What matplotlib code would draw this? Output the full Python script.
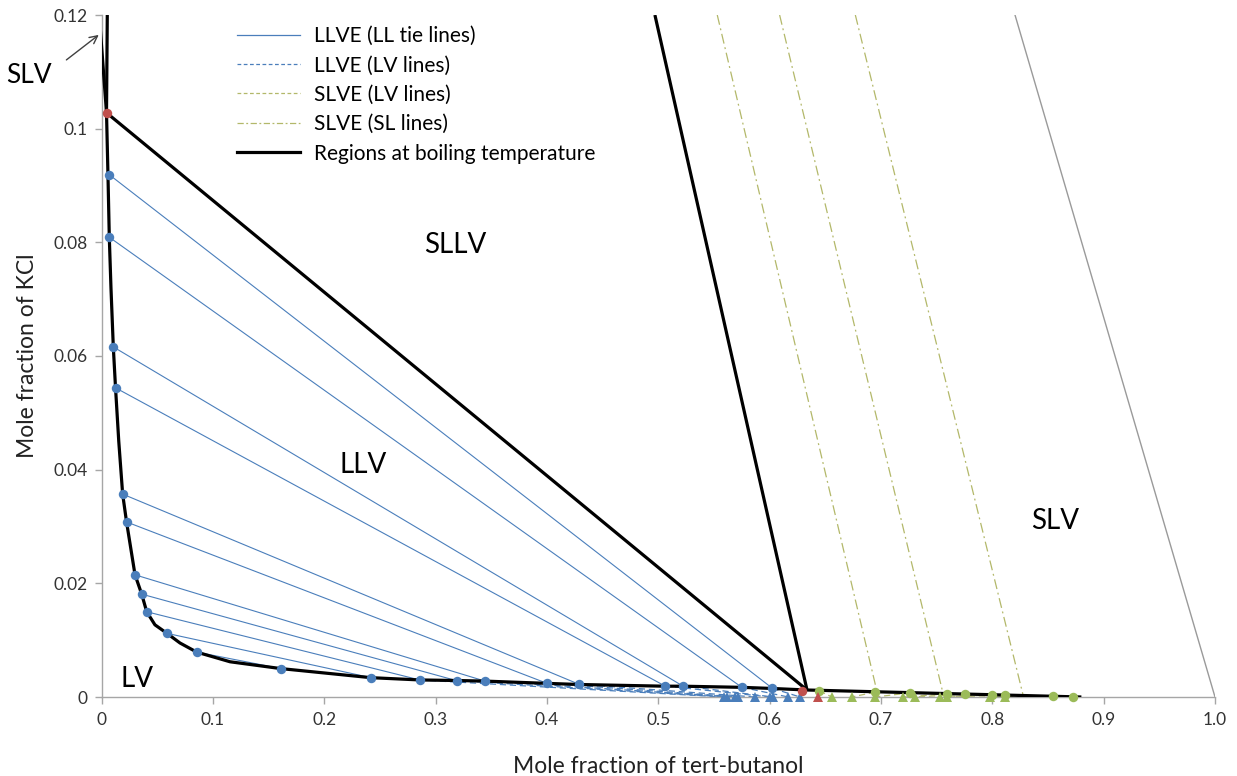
import matplotlib
matplotlib.use('Agg')
import matplotlib.pyplot as plt
from matplotlib.lines import Line2D

plt.rcParams['font.family'] = ['Lato', 'DejaVu Sans']

########################################################################################################################
# data (x = mole fraction tert-butanol, y = mole fraction KCl)

# LLVE tie lines: water-rich end (left) and alcohol-rich end (bottom)
l1_x = [0.0070, 0.0070, 0.0106, 0.0126, 0.0190, 0.0225, 0.0301, 0.0361, 0.0406, 0.0588, 0.0855]
l1_y = [0.0919, 0.0809, 0.0616, 0.0544, 0.0357, 0.0308, 0.0215, 0.0181, 0.0150, 0.0112, 0.0079]
l2_x = [0.6025, 0.5750, 0.5220, 0.5060, 0.4288, 0.4000, 0.3440, 0.3190, 0.2860, 0.2420, 0.1610]
l2_y = [0.00153, 0.00171, 0.00194, 0.00194, 0.00224, 0.00241, 0.00282, 0.00287, 0.00299, 0.0034, 0.0050]

# LLVE vapour points (no salt in vapour)
v_x = [0.6273, 0.6168, 0.6033, 0.6003, 0.5870, 0.5720, 0.5690, 0.5620, 0.5590]

# SLVE liquid / vapour points
sl_x = [0.6447, 0.6946, 0.7262, 0.7590, 0.7755, 0.7995, 0.8114, 0.8548, 0.8727]
sl_y = [0.00110, 0.00085, 0.00073, 0.00055, 0.00048, 0.00036, 0.00030, 0.00012, 0.00004]
sv_x = [0.6558, 0.6737, 0.6946, 0.7200, 0.7305, 0.7530, 0.7590, 0.7979, 0.8114]

# SLVE (SL lines): top and bottom ends
sll_top_x = [0.553, 0.609, 0.677]
sll_bot_x = [0.6965, 0.7558, 0.8277]
sll_bot_y = [0.0009, 0.0006, 0.0003]

# three-phase points (red)
tp_x = [0.0045, 0.6290]
tp_y = [0.1028, 0.00111]
tpv_x = [0.6435]

# region boundaries at boiling temperature
bnd_x = [0.0052, 0.0045, 0.0058, 0.0070, 0.0085, 0.0106, 0.0126, 0.0155, 0.0190, 0.0225, 0.0301, 0.0361,
         0.0406, 0.0480, 0.0588, 0.0705, 0.0855, 0.1154, 0.1610, 0.2420, 0.2860, 0.3190, 0.3440, 0.4000,
         0.4288, 0.5060, 0.5220, 0.5750, 0.6025, 0.6336, 0.8800]
bnd_y = [0.1200, 0.1028, 0.0919, 0.0809, 0.0720, 0.0616, 0.0544, 0.0450, 0.0357, 0.0308, 0.0215, 0.0181,
         0.0150, 0.0127, 0.0112, 0.0095, 0.0079, 0.0062, 0.0050, 0.0034, 0.0030, 0.0029, 0.0028, 0.0024,
         0.0022, 0.0019, 0.0019, 0.0017, 0.0015, 0.00123, 0.0]
slv_left_x = [0.0045, -0.0020]
slv_left_y = [0.1028, 0.1200]
sllv_x = [0.0045, 0.6336]
sllv_y = [0.1028, 0.00123]
steep_x = [0.6336, 0.4970]
steep_y = [0.00123, 0.1200]
grey_x = [0.8204, 1.0]
grey_y = [0.12, 0.0]

region_labels = ['SLLV', 'LLV', 'LV', 'SLV']
region_x = [0.318, 0.235, 0.032, 0.856]
region_y = [0.0795, 0.0408, 0.0032, 0.0310]

x_ticks = [0, 0.1, 0.2, 0.3, 0.4, 0.5, 0.6, 0.7, 0.8, 0.9, 1.0]
x_tick_labels = ['0', '0.1', '0.2', '0.3', '0.4', '0.5', '0.6', '0.7', '0.8', '0.9', '1.0']
y_ticks = [0, 0.02, 0.04, 0.06, 0.08, 0.1, 0.12]
y_tick_labels = ['0', '0.02', '0.04', '0.06', '0.08', '0.1', '0.12']

########################################################################################################################
# colours
blue = '#4A7EBB'
olive = '#B3B86A'
green = '#9BBB59'
red = '#C0504D'

fig = plt.figure(figsize=(12.37, 7.76), dpi=100)
ax = fig.add_axes([101.5 / 1237, 79 / 776, 1113.5 / 1237, 682 / 776])

# tie lines
for i in range(len(l1_x)):
    ax.plot([l1_x[i], l2_x[i]], [l1_y[i], l2_y[i]], color=blue, lw=0.8, zorder=2)

# LLVE LV lines
for i in range(len(v_x)):
    ax.plot([l2_x[i], v_x[i]], [l2_y[i], 0.0], color=blue, lw=0.9, ls=(0, (5, 3)), zorder=2)

# SLVE LV lines
for i in range(len(sl_x)):
    ax.plot([sl_x[i], sv_x[i]], [sl_y[i], 0.0], color=olive, lw=0.9, ls=(0, (5, 3)), zorder=2)

# SLVE SL lines
for i in range(len(sll_top_x)):
    ax.plot([sll_top_x[i], sll_bot_x[i]], [0.12, sll_bot_y[i]], color=olive, lw=0.9,
            ls=(0, (8, 3, 1.5, 3)), zorder=2)

ax.plot(grey_x, grey_y, color='#9A9A9A', lw=1.0, zorder=2)

# boundaries
for xs, ys in [(bnd_x, bnd_y), (slv_left_x, slv_left_y), (sllv_x, sllv_y), (steep_x, steep_y)]:
    ax.plot(xs, ys, color='black', lw=2.3, zorder=3, solid_capstyle='butt')

# markers
ax.plot(l1_x + l2_x, l1_y + l2_y, 'o', color=blue, ms=6.8, mew=0, zorder=4, clip_on=False)
ax.plot(v_x, [0.0] * len(v_x), '^', color=blue, ms=7.5, mew=0, zorder=4, clip_on=False)
ax.plot(sl_x, sl_y, 'o', color=green, ms=6.8, mew=0, zorder=4, clip_on=False)
ax.plot(sv_x, [0.0] * len(sv_x), '^', color=green, ms=7.5, mew=0, zorder=4, clip_on=False)
ax.plot(tp_x, tp_y, 'o', color=red, ms=6.8, mew=0, zorder=4, clip_on=False)
ax.plot(tpv_x, [0.0], '^', color=red, ms=7.5, mew=0, zorder=4, clip_on=False)

for lab, x, y in zip(region_labels, region_x, region_y):
    ax.text(x, y, lab, fontsize=20, ha='center', va='center')

# SLV label outside the axes on the left, with its arrow
ax.text(-0.065, 0.1094, 'SLV', fontsize=19, ha='center', va='center', clip_on=False)
ax.annotate('', xy=(-0.0005, 0.1168), xytext=(-0.0335, 0.1118), annotation_clip=False,
            arrowprops=dict(arrowstyle='->', color='#404040', lw=1.0, mutation_scale=14))

# axes
ax.set_xlim(0, 1.0)
ax.set_ylim(0, 0.12)
ax.set_xticks(x_ticks)
ax.set_xticklabels(x_tick_labels)
ax.set_yticks(y_ticks)
ax.set_yticklabels(y_tick_labels)
for s in ['top', 'right']:
    ax.spines[s].set_visible(False)
for s in ['left', 'bottom']:
    ax.spines[s].set_color('#A6A6A6')
    ax.spines[s].set_linewidth(1.0)
ax.tick_params(axis='both', direction='out', length=5, width=1.0, color='#A6A6A6',
               labelsize=12.5, labelcolor='#333333')
ax.tick_params(axis='x', pad=6)
ax.tick_params(axis='y', pad=5)
ax.set_xlabel('Mole fraction of tert-butanol', fontsize=16.5, color='#222222', labelpad=20)
ax.set_ylabel('Mole fraction of KCl', fontsize=16.5, color='#222222', labelpad=11)

# legend
handles = [
    Line2D([], [], color=blue, lw=0.9),
    Line2D([], [], color=blue, lw=0.9, ls=(0, (3, 2))),
    Line2D([], [], color=olive, lw=0.9, ls=(0, (3, 2))),
    Line2D([], [], color=olive, lw=0.9, ls=(0, (5, 2, 1.5, 2))),
    Line2D([], [], color='black', lw=2.3),
]
labels = ['LLVE (LL tie lines)', 'LLVE (LV lines)', 'SLVE (LV lines)', 'SLVE (SL lines)',
          'Regions at boiling temperature']
fig.legend(handles, labels, loc='upper left', bbox_to_anchor=(237 / 1237, 1 - 26 / 776),
           frameon=False, fontsize=15, handlelength=3.0, handletextpad=0.72, labelspacing=0.45,
           borderpad=0, borderaxespad=0)

fig.savefig('out.png', dpi=100)
